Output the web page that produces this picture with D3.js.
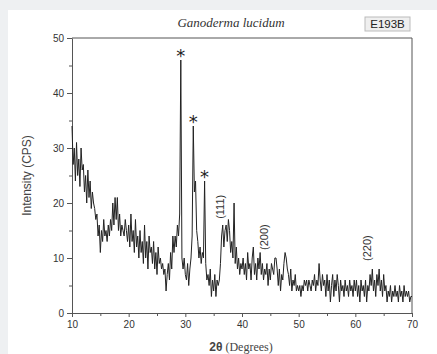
<!DOCTYPE html>
<html>
<head>
<meta charset="utf-8">
<script src="https://cdn.jsdelivr.net/npm/d3@7"></script>
<style>
  body { margin: 0; background: #eef0f2; }
  #chart { position: absolute; left: 0; top: 0; }
</style>
</head>
<body>
<div id="chart"></div>
<script>
// 2-theta from 10 to 70 in 0.2 degree steps
const startAngle = 10;
const stepAngle = 0.2;
const intensity = [
  34, 27, 30, 24, 31, 25, 28, 23, 30, 26,
  27, 22, 25, 20, 26, 21, 24, 19, 22, 20,
  19, 17, 18, 14, 16, 11, 15, 13, 17, 14,
  15, 13, 16, 14, 17, 15, 20, 16, 21, 17,
  21, 15, 18, 14, 16, 15, 14, 17, 15, 13,
  16, 12, 18, 13, 15, 11, 17, 12, 14, 10,
  15, 11, 13, 9, 16, 10, 13, 8, 14, 11,
  12, 9, 13, 8, 11, 7, 12, 9, 10, 8,
  9, 7, 8, 4, 7, 9, 6, 11, 8, 14,
  11, 14, 12, 16, 14, 18, 46, 10, 8, 10,
  7, 6, 9, 5, 8, 10, 14, 34, 22, 24,
  15, 13, 10, 12, 9, 11, 10, 24, 9, 6,
  7, 5, 8, 3, 6, 4, 7, 3, 6, 5,
  6, 9, 14, 16, 12, 15, 16, 13, 17, 15,
  11, 13, 10, 20, 9, 12, 8, 10, 7, 9,
  8, 10, 7, 9, 6, 11, 8, 9, 6, 10,
  12, 7, 9, 6, 10, 8, 11, 7, 9, 6,
  8, 7, 9, 5, 8, 6, 9, 8, 7, 10,
  10, 8, 5, 8, 4, 7, 6, 9, 11, 10,
  8, 7, 5, 8, 4, 6, 5, 7, 4, 5,
  4, 5, 3, 5, 4, 6, 5, 6, 4, 6,
  5, 4, 6, 5, 7, 4, 6, 5, 9, 6,
  4, 7, 5, 6, 3, 7, 4, 6, 2, 5,
  7, 3, 6, 4, 7, 5, 2, 6, 4, 5,
  3, 6, 4, 5, 3, 6, 4, 5, 3, 6,
  4, 6, 3, 5, 2, 6, 4, 5, 3, 6,
  2, 5, 4, 7, 5, 8, 4, 6, 3, 7,
  5, 8, 4, 6, 3, 7, 4, 5, 2, 4,
  3, 5, 2, 4, 3, 5, 3, 4, 2, 5,
  3, 4, 2, 5, 3, 4, 3, 4, 2, 3,
  3
];

const xTicks = [10, 20, 30, 40, 50, 60, 70];
const yTicks = [0, 10, 20, 30, 40, 50];

// peak markers
const starX = [29.2, 31.4, 33.4];
const starY = [47.2, 35.2, 25.2];
const hklLabels = ['(111)', '(200)', '(220)'];
const hklX = [36.1, 43.9, 62.1];
const hklY = [19.3, 13.8, 11.8];

const W = 437, H = 354;
const margin = { top: 38, right: 25, bottom: 41, left: 72 };
const width = W - margin.left - margin.right;
const height = H - margin.top - margin.bottom;

const svg = d3.select('#chart').append('svg')
  .attr('width', W)
  .attr('height', H);

// white panel
svg.append('rect')
  .attr('x', 8).attr('y', 10)
  .attr('width', W - 8).attr('height', H - 10)
  .attr('fill', '#fff');

const g = svg.append('g')
  .attr('transform', `translate(${margin.left},${margin.top})`);

const x = d3.scaleLinear().domain([10, 70]).range([0, width]);
const y = d3.scaleLinear().domain([0, 50]).range([height, 0]);

const data = intensity.map((v, i) => ({ a: startAngle + i * stepAngle, v: v }));

// frame top / right
g.append('path')
  .attr('d', `M0,0H${width}V${height}`)
  .attr('fill', 'none')
  .attr('stroke', '#555')
  .attr('stroke-width', 1);

// minor ticks
g.append('g')
  .attr('transform', `translate(0,${height})`)
  .call(d3.axisBottom(x).tickValues(d3.range(15, 70, 10)).tickSize(3).tickFormat(''))
  .call(a => a.select('.domain').remove())
  .selectAll('line').attr('stroke', '#555');
g.append('g')
  .call(d3.axisLeft(y).tickValues(d3.range(5, 50, 10)).tickSize(3).tickFormat(''))
  .call(a => a.select('.domain').remove())
  .selectAll('line').attr('stroke', '#555');

const xAxis = g.append('g')
  .attr('transform', `translate(0,${height})`)
  .call(d3.axisBottom(x).tickValues(xTicks).tickSize(4).tickSizeOuter(0).tickPadding(4));
const yAxis = g.append('g')
  .call(d3.axisLeft(y).tickValues(yTicks).tickSize(5).tickSizeOuter(0).tickPadding(3));

[xAxis, yAxis].forEach(a => {
  a.select('.domain').attr('stroke', '#555');
  a.selectAll('line').attr('stroke', '#555');
  a.selectAll('text')
    .style('font-family', 'Liberation Sans, Arial, sans-serif')
    .style('font-size', '10px')
    .attr('fill', '#333');
});

// pattern
g.append('path')
  .datum(data)
  .attr('fill', 'none')
  .attr('stroke', '#222')
  .attr('stroke-width', 1)
  .attr('stroke-linejoin', 'miter')
  .attr('d', d3.line().x(d => x(d.a)).y(d => y(d.v)));

// asterisks
g.selectAll('.star')
  .data(starX)
  .enter().append('text')
  .attr('x', d => x(d))
  .attr('y', (d, i) => y(starY[i]) + 9)
  .attr('text-anchor', 'middle')
  .style('font-family', 'DejaVu Sans, sans-serif')
  .style('font-size', '18px')
  .attr('fill', '#222')
  .text('*');

// hkl labels
g.selectAll('.hkl')
  .data(hklLabels)
  .enter().append('text')
  .attr('transform', (d, i) => `translate(${x(hklX[i]) + 4},${y(hklY[i])}) rotate(-90)`)
  .attr('text-anchor', 'middle')
  .style('font-family', 'Liberation Sans, Arial, sans-serif')
  .style('font-size', '11px')
  .attr('fill', '#333')
  .text(d => d);

// title
svg.append('text')
  .attr('x', 231).attr('y', 27)
  .attr('text-anchor', 'middle')
  .style('font-family', 'Liberation Serif, Times New Roman, serif')
  .style('font-style', 'italic')
  .style('font-size', '13px')
  .attr('fill', '#333')
  .text('Ganoderma lucidum');

// sample tag
svg.append('rect')
  .attr('x', 365).attr('y', 17)
  .attr('width', 45).attr('height', 14)
  .attr('fill', '#efefef')
  .attr('stroke', '#bbb');
svg.append('text')
  .attr('x', 387.5).attr('y', 28)
  .attr('text-anchor', 'middle')
  .style('font-family', 'Liberation Sans, Arial, sans-serif')
  .style('font-size', '11.5px')
  .attr('fill', '#222')
  .text('E193B');

// y label
svg.append('text')
  .attr('transform', `translate(31,${margin.top + height / 2}) rotate(-90)`)
  .attr('text-anchor', 'middle')
  .style('font-family', 'Liberation Sans, Arial, sans-serif')
  .style('font-size', '12px')
  .attr('fill', '#444')
  .text('Intensity (CPS)');

// x label
const xl = svg.append('text')
  .attr('x', 241).attr('y', 351)
  .attr('text-anchor', 'middle')
  .attr('fill', '#444')
  .style('font-size', '12px');
xl.append('tspan')
  .style('font-family', 'Liberation Sans, Arial, sans-serif')
  .style('font-weight', 'bold')
  .text('2θ');
xl.append('tspan')
  .style('font-family', 'Liberation Serif, Times New Roman, serif')
  .text(' (Degrees)');
</script>
</body>
</html>
